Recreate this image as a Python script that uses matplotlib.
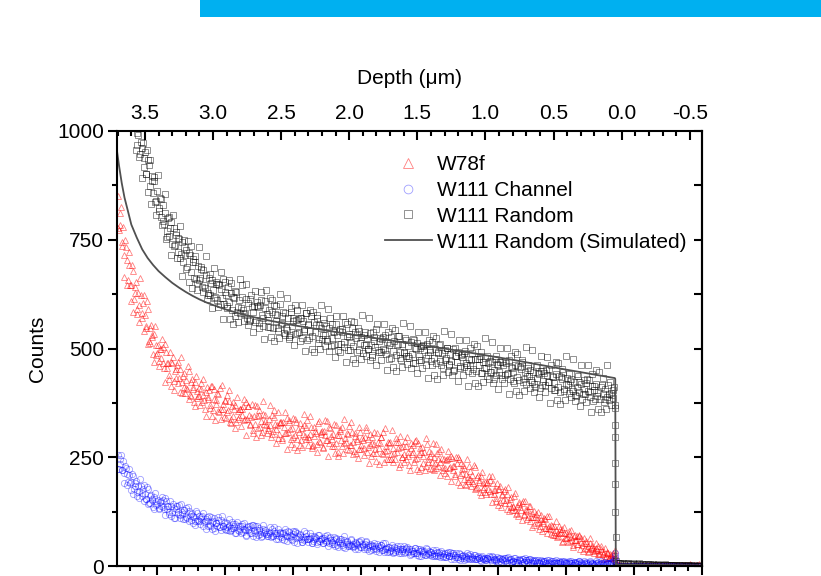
import matplotlib.pyplot as plt
import numpy as np
from matplotlib.patches import Rectangle
from matplotlib.ticker import MultipleLocator

plt.rcParams['font.family'] = ['Liberation Sans', 'DejaVu Sans']
plt.rcParams['font.size'] = 15
plt.rcParams['axes.unicode_minus'] = False

# channel spacing in depth (um); "_b" lists are the channels half a step further in
DEPTH_STEP = 0.01
random_start = 3.57
w78f_start = 3.70
channel_start = 3.70
tail_start = 0.04

# W111 Random, 3.57 um -> 0.05 um
random_counts = [
    1012, 968, 990, 941, 975, 962, 918, 951, 902, 933,
    921, 874, 897, 858, 884, 839, 861, 817, 846, 802,
    829, 786, 812, 771, 799, 758, 790, 741, 776, 737,
    768, 722, 751, 709, 744, 698, 733, 726, 687, 719,
    714, 677, 705, 662, 699, 651, 690, 658, 683, 642,
    681, 639, 670, 627, 661, 622, 657, 634, 616, 652,
    611, 648, 602, 637, 659, 603, 631, 597, 641, 608,
    628, 589, 619, 574, 631, 596, 612, 582, 647, 588,
    579, 613, 571, 604, 566, 622, 584, 598, 561, 607,
    596, 559, 611, 577, 552, 593, 634, 566, 588, 549,
    585, 547, 599, 563, 578, 541, 603, 557, 574, 536,
    581, 543, 569, 527, 592, 552, 571, 533, 566, 588,
    538, 571, 524, 563, 545, 582, 519, 556, 540, 574,
    529, 561, 537, 578, 512, 553, 546, 522, 567, 530,
    552, 518, 546, 571, 523, 540, 509, 557, 531, 496,
    544, 511, 538, 503, 561, 529, 497, 533, 516, 548,
    506, 537, 524, 493, 541, 512, 527, 489, 532, 507,
    523, 498, 536, 509, 481, 527, 504, 545, 496, 518,
    491, 522, 500, 531, 488, 515, 476, 512, 527, 495,
    517, 486, 509, 528, 493, 474, 511, 490, 523, 483,
    506, 479, 514, 488, 521, 467, 499, 512, 482, 502,
    473, 505, 496, 462, 511, 484, 497, 471, 515, 479,
    498, 466, 490, 507, 471, 489, 455, 496, 478, 502,
    463, 488, 472, 499, 451, 483, 469, 492, 459, 486,
    481, 457, 494, 466, 448, 477, 463, 489, 452, 475,
    449, 476, 461, 483, 444, 470, 456, 479, 437, 466,
    472, 445, 468, 451, 476, 439, 462, 447, 469, 431,
    461, 438, 466, 442, 473, 429, 457, 445, 421, 463,
    434, 459, 427, 452, 468, 431, 446, 419, 455, 437,
    451, 424, 447, 418, 458, 433, 441, 409, 449, 426,
    443, 415, 439, 424, 452, 410, 436, 420, 405, 441,
    412, 437, 401, 429, 446, 408, 418, 433, 397, 425,
    430, 403, 424, 392, 411, 437, 399, 419, 385, 407,
    396, 421, 402, 427, 388, 413, 379, 405, 418, 391,
    401, 384, 412, 395, 376, 408, 389, 415, 381, 397,
    392, 404, 371,
]
random_counts_b = [
    957, 996, 1016, 948, 893, 973, 937, 900, 957, 859,
    934, 832, 885, 894, 836, 806, 899, 824, 844, 783,
    793, 855, 752, 757, 803, 778, 716, 806, 736, 762,
    708, 755, 781, 717, 666, 749, 716, 683, 746, 654,
    735, 639, 698, 712, 659, 635, 733, 663, 687, 631,
    646, 712, 614, 622, 671, 651, 592, 685, 619, 648,
    596, 647, 676, 615, 567, 653, 623, 592, 657, 567,
    650, 556, 617, 633, 583, 560, 660, 592, 618, 564,
    581, 649, 553, 563, 614, 595, 538, 632, 566, 597,
    547, 599, 629, 569, 522, 609, 580, 550, 616, 527,
    611, 518, 580, 597, 547, 525, 626, 558, 585, 531,
    548, 617, 521, 531, 583, 564, 507, 601, 536, 567,
    518, 570, 601, 541, 495, 582, 553, 523, 589, 500,
    584, 491, 554, 571, 521, 499, 600, 532, 559, 505,
    522, 591, 495, 505, 557, 538, 481, 575, 510, 541,
    492, 544, 575, 515, 468, 556, 527, 497, 564, 475,
    560, 467, 530, 547, 497, 476, 577, 509, 537, 483,
    500, 570, 474, 485, 537, 518, 462, 556, 492, 523,
    473, 526, 556, 497, 450, 537, 509, 479, 546, 457,
    542, 449, 511, 529, 479, 458, 559, 491, 519, 465,
    483, 552, 456, 467, 519, 501, 444, 538, 474, 505,
    456, 508, 539, 479, 432, 520, 491, 461, 528, 439,
    524, 431, 493, 511, 461, 440, 541, 473, 501, 447,
    465, 534, 438, 449, 501, 483, 426, 520, 456, 487,
    438, 490, 520, 461, 414, 502, 473, 443, 510, 421,
    506, 413, 476, 493, 443, 422, 523, 455, 483, 429,
    447, 516, 421, 431, 483, 465, 408, 502, 438, 469,
    420, 472, 502, 443, 396, 483, 455, 425, 491, 403,
    487, 394, 457, 474, 424, 402, 504, 436, 463, 409,
    427, 496, 401, 411, 463, 444, 388, 482, 417, 448,
    399, 451, 481, 422, 375, 462, 434, 404, 470, 382,
    466, 373, 435, 453, 403, 381, 483, 415, 442, 388,
    406, 475, 379, 390, 442, 423, 367, 461, 396, 427,
    378, 430, 461, 401, 354, 442, 413, 383, 450, 361,
    445, 353, 415, 433, 383, 361, 463, 395, 423, 369,
    386, 412,
]

# W78f, 3.70 um -> 0.05 um
w78f_counts = [
    851, 772, 785, 744, 779, 714, 733, 645, 691, 647,
    647, 679, 614, 628, 579, 627, 599, 622, 571, 623,
    576, 546, 590, 518, 548, 526, 487, 534, 509, 490,
    471, 498, 479, 504, 456, 511, 455, 466, 429, 469,
    467, 425, 449, 433, 470, 433, 454, 397, 437, 411,
    428, 406, 449, 392, 422, 408, 377, 423, 403, 391,
    391, 420, 376, 392, 360, 401, 384, 405, 370, 414,
    359, 385, 372, 397, 357, 409, 362, 372, 342, 379,
    392, 359, 380, 329, 367, 344, 370, 332, 356, 342,
    362, 347, 368, 336, 378, 339, 368, 327, 343, 313,
    345, 327, 368, 317, 346, 334, 308, 350, 334, 324,
    312, 337, 324, 348, 310, 359, 314, 324, 295, 330,
    332, 295, 319, 306, 341, 309, 330, 280, 318, 296,
    302, 331, 291, 307, 278, 317, 303, 324, 293, 335,
    296, 304, 319, 275, 300, 310, 280, 329, 287, 303,
    310, 274, 301, 289, 333, 283, 318, 293, 303, 277,
    282, 302, 263, 311, 289, 319, 283, 294, 269, 304,
    322, 278, 309, 286, 299, 259, 287, 270, 309, 278,
    289, 271, 312, 262, 291, 279, 254, 296, 280, 270,
    259, 284, 272, 297, 260, 309, 264, 276, 247, 282,
    284, 247, 272, 259, 294, 263, 284, 234, 273, 251,
    258, 287, 246, 263, 233, 272, 257, 279, 247, 289,
    249, 257, 272, 228, 252, 262, 231, 281, 238, 254,
    260, 223, 250, 237, 280, 229, 264, 238, 248, 220,
    225, 243, 206, 249, 228, 254, 221, 230, 206, 237,
    251, 210, 236, 214, 226, 188, 212, 195, 229, 201,
    209, 191, 227, 180, 205, 194, 170, 206, 191, 181,
    170, 190, 178, 198, 165, 206, 166, 174, 149, 177,
    176, 146, 163, 152, 177, 151, 166, 127, 154, 136,
    139, 160, 128, 139, 114, 142, 129, 144, 119, 149,
    126, 113, 139, 104, 122, 112, 94, 120, 108, 101,
    93, 107, 98, 111, 88, 116, 87, 92, 74, 93,
    92, 71, 83, 75, 93, 75, 85, 57, 76, 64,
    66, 80, 58, 66, 49, 68, 59, 69, 51, 72,
    56, 48, 65, 41, 53, 47, 34, 52, 44, 39,
    34, 42, 37, 45, 29, 47, 28, 32, 18, 32,
    31, 19, 26, 19, 30, 21,
]
w78f_counts_b = [
    777, 812, 825, 736, 665, 749, 703, 657, 721, 609,
    692, 583, 642, 652, 591, 560, 663, 582, 605, 540,
    552, 609, 511, 513, 554, 530, 470, 552, 485, 509,
    460, 500, 522, 466, 422, 493, 466, 438, 492, 414,
    481, 405, 452, 463, 421, 401, 480, 423, 443, 398,
    409, 460, 385, 390, 429, 412, 367, 437, 386, 409,
    369, 408, 430, 382, 345, 411, 388, 364, 413, 344,
    407, 335, 382, 395, 355, 338, 415, 362, 382, 341,
    353, 405, 331, 337, 377, 361, 317, 388, 338, 361,
    322, 362, 385, 338, 302, 368, 346, 323, 373, 305,
    369, 297, 345, 358, 319, 302, 379, 327, 347, 306,
    318, 371, 296, 303, 342, 327, 283, 354, 304, 328,
    290, 330, 353, 306, 270, 336, 314, 291, 341, 273,
    337, 266, 314, 328, 289, 273, 350, 299, 319, 279,
    291, 345, 271, 279, 319, 305, 261, 334, 284, 309,
    271, 311, 335, 289, 254, 320, 299, 276, 327, 260,
    324, 253, 301, 315, 276, 260, 337, 286, 306, 266,
    278, 332, 258, 265, 306, 291, 248, 320, 270, 295,
    256, 296, 320, 273, 237, 304, 282, 259, 309, 242,
    306, 234, 283, 296, 257, 240, 318, 266, 286, 246,
    258, 312, 238, 245, 286, 271, 227, 300, 250, 275,
    238, 275, 297, 254, 220, 282, 262, 240, 287, 224,
    283, 218, 262, 273, 237, 221, 294, 245, 264, 226,
    238, 283, 220, 226, 259, 247, 209, 270, 228, 246,
    214, 246, 264, 225, 196, 249, 230, 211, 251, 194,
    245, 186, 224, 233, 201, 186, 247, 204, 219, 185,
    195, 233, 177, 181, 209, 198, 164, 216, 178, 194,
    165, 192, 207, 172, 146, 191, 174, 157, 191, 141,
    184, 135, 165, 172, 144, 131, 182, 145, 158, 129,
    136, 168, 120, 122, 146, 135, 106, 150, 117, 131,
    107, 128, 139, 112, 90, 126, 112, 98, 124, 86,
    118, 80, 103, 108, 87, 76, 115, 86, 95, 72,
    78, 103, 66, 69, 86, 79, 56, 90, 64, 75,
    56, 73, 82, 60, 43, 72, 60, 50, 70, 39,
    65, 35, 53, 58, 40, 33, 64, 42, 49, 31,
    36, 52, 27, 28, 40, 34, 17, 41, 22, 30,
    18, 27, 20, 25, 17,
]

# W111 Channel, 3.70 um -> 0.05 um
channel_counts = [
    255, 224, 235, 221, 241, 214, 225, 186, 210, 191,
    192, 208, 178, 185, 162, 185, 173, 184, 161, 186,
    165, 153, 176, 144, 160, 151, 135, 159, 149, 142,
    134, 147, 139, 152, 131, 157, 132, 137, 120, 139,
    123, 133, 111, 137, 124, 140, 118, 124, 109, 128,
    134, 111, 126, 114, 120, 99, 113, 103, 122, 106,
    104, 108, 115, 92, 103, 108, 92, 116, 94, 102,
    104, 87, 99, 93, 112, 90, 105, 93, 98, 85,
    99, 82, 93, 87, 102, 88, 97, 75, 92, 81,
    84, 97, 79, 85, 71, 89, 82, 92, 77, 95,
    83, 76, 92, 72, 83, 79, 68, 85, 78, 74,
    70, 79, 75, 84, 69, 89, 71, 76, 63, 78,
    67, 75, 59, 78, 69, 81, 66, 70, 60, 74,
    81, 64, 75, 66, 71, 55, 66, 59, 75, 62,
    62, 65, 69, 54, 62, 66, 55, 72, 57, 62,
    64, 52, 60, 56, 71, 53, 66, 56, 60, 50,
    61, 48, 56, 52, 63, 53, 60, 42, 56, 47,
    50, 60, 45, 51, 40, 54, 48, 56, 44, 59,
    49, 43, 56, 40, 49, 45, 37, 49, 45, 41,
    38, 45, 41, 49, 37, 52, 39, 41, 33, 43,
    35, 41, 30, 43, 37, 46, 34, 38, 30, 40,
    46, 33, 42, 34, 39, 27, 34, 29, 41, 31,
    31, 34, 38, 24, 32, 35, 25, 40, 27, 32,
    32, 23, 30, 26, 37, 24, 33, 26, 29, 21,
    30, 20, 26, 23, 32, 23, 29, 16, 25, 20,
    21, 28, 18, 22, 14, 24, 20, 25, 17, 28,
    21, 17, 25, 15, 21, 18, 13, 21, 18, 16,
    13, 19, 16, 21, 13, 23, 14, 17, 11, 17,
    18, 11, 16, 13, 19, 13, 18, 8, 16, 10,
    12, 18, 10, 13, 7, 14, 12, 16, 10, 18,
    13, 10, 16, 8, 13, 11, 7, 13, 10, 9,
    7, 11, 10, 12, 7, 14, 8, 10, 5, 11,
    11, 6, 9, 7, 12, 7, 11, 3, 9, 6,
    7, 12, 6, 7, 3, 9, 7, 10, 5, 12,
    8, 5, 11, 4, 8, 6, 2, 9, 6, 5,
    3, 7, 6, 9, 4, 11, 5, 7, 2, 8,
    8, 4, 7, 9, 13, 17,
]
channel_counts_b = [
    224, 245, 255, 220, 191, 231, 212, 193, 224, 175,
    212, 166, 191, 195, 169, 157, 200, 167, 177, 150,
    155, 181, 142, 144, 163, 155, 130, 167, 140, 151,
    131, 149, 159, 136, 117, 149, 137, 125, 149, 114,
    143, 111, 132, 137, 119, 110, 143, 120, 128, 108,
    113, 136, 103, 105, 122, 115, 95, 127, 104, 114,
    97, 113, 121, 102, 86, 113, 103, 93, 113, 85,
    111, 81, 100, 106, 89, 83, 114, 92, 101, 83,
    89, 108, 81, 83, 97, 92, 75, 102, 83, 91,
    77, 91, 100, 82, 68, 93, 84, 76, 94, 68,
    92, 66, 83, 88, 73, 67, 95, 76, 83, 68,
    73, 90, 66, 68, 81, 77, 61, 86, 68, 77,
    63, 77, 84, 68, 57, 78, 71, 63, 80, 56,
    78, 54, 70, 74, 61, 55, 81, 63, 70, 56,
    61, 77, 54, 57, 68, 64, 51, 71, 57, 63,
    52, 64, 70, 57, 45, 65, 59, 51, 67, 46,
    65, 44, 57, 61, 49, 44, 68, 51, 58, 45,
    49, 63, 43, 45, 55, 51, 39, 58, 44, 51,
    40, 51, 57, 44, 35, 51, 46, 39, 52, 34,
    51, 32, 44, 48, 37, 33, 53, 39, 44, 33,
    37, 49, 32, 33, 42, 39, 29, 45, 34, 38,
    30, 39, 44, 33, 25, 40, 35, 30, 41, 25,
    40, 24, 35, 37, 28, 25, 41, 30, 35, 25,
    27, 37, 23, 24, 32, 29, 20, 34, 24, 28,
    21, 29, 32, 23, 17, 29, 25, 20, 29, 16,
    29, 14, 24, 26, 18, 15, 30, 19, 23, 15,
    18, 25, 15, 16, 22, 19, 12, 23, 16, 19,
    13, 19, 23, 16, 10, 20, 16, 13, 21, 10,
    19, 9, 16, 18, 12, 9, 21, 13, 16, 9,
    11, 19, 9, 10, 16, 13, 6, 17, 10, 14,
    9, 14, 15, 10, 6, 14, 11, 8, 14, 6,
    13, 5, 11, 11, 7, 5, 14, 8, 11, 6,
    8, 14, 6, 6, 10, 9, 4, 12, 6, 9,
    5, 10, 12, 6, 2, 10, 7, 5, 11, 3,
    10, 2, 8, 9, 4, 2, 11, 5, 8, 3,
    5, 11, 3, 4, 8, 7, 2, 10, 4, 7,
    7, 4, 9, 6, 12,
]

# points on the surface edge
random_edge_depth = [0.048, 0.0475, 0.047, 0.0465, 0.046, 0.0455, 0.045]
random_edge_counts = [363, 324, 297, 237, 189, 124, 67]
w78f_edge_depth = [0.048, 0.046, 0.044]
w78f_edge_counts = [37, 28, 12]
channel_edge_depth = [0.048, 0.046, 0.044]
channel_edge_counts = [29, 22, 9]

# beyond the surface, 0.04 um -> -0.58 um
random_tail = [
    12, 8, 6, 7, 5, 6, 4, 7, 5, 6,
    5, 4, 6, 5, 3, 5, 4, 6, 3, 4,
    4, 3, 5, 4, 3, 4, 2, 4, 3, 3,
    3, 4, 2, 3, 3, 2, 4, 2, 3, 2,
    2, 3, 2, 2, 3, 1, 2, 2, 3, 1,
    2, 1, 2, 2, 1, 2, 1, 2, 1, 1,
    1, 2, 1,
]
w78f_tail = [
    6, 3, 2, 2, 1, 2, 1, 1, 2, 1,
    1, 2, 1, 1, 2, 1, 2, 1, 1, 2,
    2, 1, 2, 2, 1, 2, 2, 1, 2, 2,
    2, 2, 3, 2, 2, 3, 2, 2, 3, 2,
    3, 2, 3, 3, 2, 3, 3, 2, 3, 3,
    3, 3, 2, 3, 4, 3, 3, 2, 3, 3,
    3, 4, 3,
]
channel_tail = [
    3, 1, 1, 0, 1, 0, 0, 1, 0, 0,
    0, 1, 0, 0, 0, 1, 0, 0, 0, 0,
    1, 0, 0, 0, 0, 0, 1, 0, 0, 0,
    0, 0, 0, 1, 0, 0, 0, 0, 0, 0,
    0, 1, 0, 0, 0, 0, 0, 0, 1, 0,
    0, 0, 0, 0, 0, 0, 0, 1, 0, 0,
    0, 0, 0,
]

# W111 Random (Simulated)
sim_depth = [3.71, 3.69, 3.67, 3.65, 3.62, 3.60, 3.56, 3.52, 3.48, 3.44,
             3.40, 3.35, 3.30, 3.25, 3.20, 3.15, 3.10, 3.05, 3.00, 2.90,
             2.80, 2.70, 2.60, 2.50, 2.40, 2.30, 2.00, 1.60, 1.20, 0.80,
             0.40, 0.05, 0.047, 0.043, -0.60]
sim_counts = [965, 920, 880, 847, 810, 785, 755, 728, 708, 692,
              678, 664, 651, 640, 630, 621, 613, 606, 600, 589,
              580, 572, 565, 559, 553, 548, 533, 514, 495, 474,
              451, 432, 430, 3, 1]


def series(start, counts, counts_b, edge_depth, edge_counts, tail):
    """Join both channel runs, the surface edge and the tail into one x/y pair."""
    xa = start - DEPTH_STEP * np.arange(len(counts))
    xb = start - DEPTH_STEP / 2 - DEPTH_STEP * np.arange(len(counts_b))
    xt = tail_start - DEPTH_STEP * np.arange(len(tail))
    x = np.concatenate([xa, xb, edge_depth, xt])
    y = np.concatenate([counts, counts_b, edge_counts, tail])
    return x, y


W, H = 821, 576
fig = plt.figure(figsize=(W / 100, H / 100), dpi=100)
ax = fig.add_axes([117 / W, 10 / H, 585 / W, 435 / H])

# banner strip at the top of the slide
fig.add_artist(Rectangle((200 / W, 1 - 17 / H), 1, 17 / H, transform=fig.transFigure,
                         color='#00b0f0', lw=0))

x, y = series(w78f_start, w78f_counts, w78f_counts_b, w78f_edge_depth, w78f_edge_counts, w78f_tail)
h_red, = ax.plot(x, y, ls='none', marker='^', ms=4.8, mfc='none',
                 mec=(1, 0, 0, 0.5), mew=0.6, label='W78f')
x, y = series(channel_start, channel_counts, channel_counts_b, channel_edge_depth,
              channel_edge_counts, channel_tail)
h_blue, = ax.plot(x, y, ls='none', marker='o', ms=4.5, mfc='none',
                  mec=(0, 0, 1, 0.38), mew=0.6, label='W111 Channel')
x, y = series(random_start, random_counts, random_counts_b, random_edge_depth,
              random_edge_counts, random_tail)
h_black, = ax.plot(x, y, ls='none', marker='s', ms=4.0, mfc='none',
                   mec=(0, 0, 0, 0.5), mew=0.6, label='W111 Random')
h_sim, = ax.plot(sim_depth, sim_counts, color='#505050', lw=1.3,
                 label='W111 Random (Simulated)')

ax.set_xlim(3.705, -0.59)
ax.set_ylim(0, 1000)

# depth scale on top, ticks pointing in
ax.xaxis.set_ticks_position('top')
ax.xaxis.set_label_position('top')
ax.xaxis.set_major_locator(MultipleLocator(0.5))
ax.xaxis.set_minor_locator(MultipleLocator(0.1))
ax.tick_params(axis='x', which='both', direction='in', top=True, bottom=False,
               labeltop=True, labelbottom=False, width=1.5, pad=6)
ax.tick_params(axis='x', which='major', length=6.5)
ax.tick_params(axis='x', which='minor', length=3.6)
ax.set_xlabel('Depth (\u03bcm)', labelpad=14)

ax.yaxis.set_major_locator(MultipleLocator(250))
ax.yaxis.set_minor_locator(MultipleLocator(125))
ax.tick_params(axis='y', which='both', direction='out', left=True, right=False, width=1.5, pad=3)
ax.tick_params(axis='y', which='major', length=6.5)
ax.tick_params(axis='y', which='minor', length=3.6)
ax.set_ylabel('Counts', labelpad=7.5)

for s in ax.spines.values():
    s.set_linewidth(1.5)

# bottom scale (its labels fall below the visible slide)
bottom = ax.secondary_xaxis('bottom', functions=(lambda d: 200 + (3.41 - d) * 200,
                                                  lambda e: 3.41 - (e - 200) / 200))
bottom.xaxis.set_major_locator(MultipleLocator(100))
bottom.xaxis.set_minor_locator(MultipleLocator(20))
bottom.tick_params(which='both', direction='out', width=1.5, labelbottom=False)
bottom.tick_params(which='major', length=6.5)
bottom.tick_params(which='minor', length=3.6)
bottom.spines['bottom'].set_linewidth(1.5)

right = ax.secondary_yaxis('right')
right.yaxis.set_major_locator(MultipleLocator(250))
right.yaxis.set_minor_locator(MultipleLocator(125))
right.tick_params(which='both', direction='in', width=1.5, length=6, labelright=False)
right.spines['right'].set_linewidth(1.5)

ax.legend(handles=[h_red, h_blue, h_black, h_sim], loc='upper left',
          bbox_to_anchor=(0.458, 0.945), frameon=False, borderpad=0,
          borderaxespad=0, handlelength=2.26, handletextpad=0.25,
          labelspacing=0.33, markerscale=1.4, numpoints=1, fontsize=15)

fig.savefig('out.png', dpi=100)
